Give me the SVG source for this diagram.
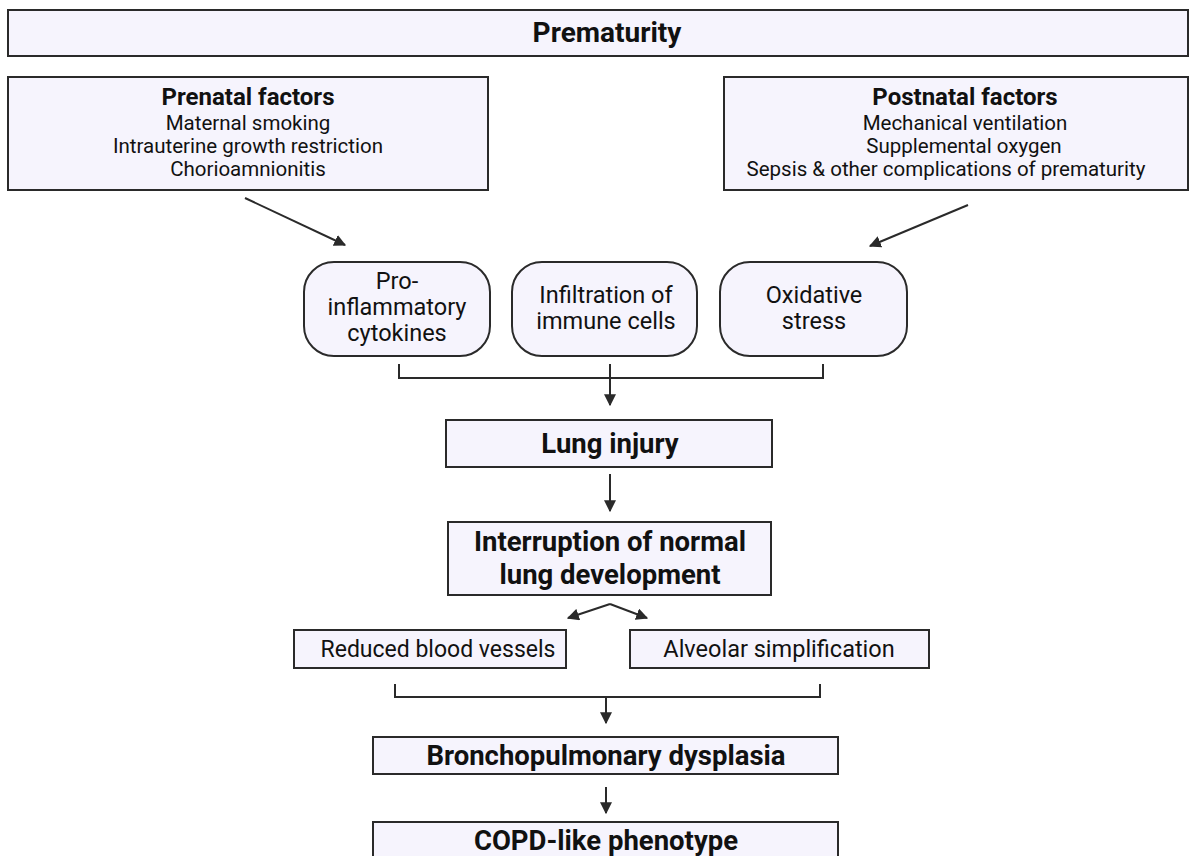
<svg xmlns="http://www.w3.org/2000/svg" width="1192" height="856" viewBox="0 0 1192 856">
<defs>
<style>
.box{fill:#f6f4fd;stroke:#2a2a2a;stroke-width:2}
.t{font-family:Roboto,"Liberation Sans",sans-serif;fill:#111;text-anchor:middle}
.b{font-weight:bold}
.ln{fill:none;stroke:#2a2a2a;stroke-width:2}
</style>
<marker id="ah" viewBox="0 0 10 10" refX="9" refY="5" markerWidth="6" markerHeight="6" orient="auto" markerUnits="strokeWidth">
<path d="M0,0 L10,5 L0,10 z" fill="#2a2a2a"/>
</marker>
</defs>
<rect width="1192" height="856" fill="#fff"/>
<g id="prematurity"><rect class="box" x="8" y="10" width="1180" height="46"/><text class="t b" x="607" y="42" font-size="28">Prematurity</text></g>
<g id="prenatal"><rect class="box" x="8" y="77" width="480" height="113"/>
<text class="t b" x="248" y="105" font-size="24">Prenatal factors</text>
<text class="t" x="248" y="130" font-size="20.5">Maternal smoking</text>
<text class="t" x="248" y="153" font-size="20.5">Intrauterine growth restriction</text>
<text class="t" x="248" y="176" font-size="20.5">Chorioamnionitis</text></g>
<g id="postnatal"><rect class="box" x="724" y="77" width="464" height="113"/>
<text class="t b" x="965" y="105" font-size="24">Postnatal factors</text>
<text class="t" x="965" y="130" font-size="20.5">Mechanical ventilation</text>
<text class="t" x="964" y="153" font-size="20.5">Supplemental oxygen</text>
<text class="t" x="946" y="176" font-size="20.5">Sepsis &amp; other complications of prematurity</text></g>
<g id="cytokines"><rect class="box" x="304" y="262" width="186" height="94" rx="30"/>
<text class="t" x="397" y="289" font-size="23.5">Pro-</text>
<text class="t" x="397" y="315" font-size="23.5">inflammatory</text>
<text class="t" x="397" y="341" font-size="23.5">cytokines</text></g>
<g id="immune"><rect class="box" x="512" y="262" width="185" height="94" rx="30"/>
<text class="t" x="606" y="303" font-size="23.5">Infiltration of</text>
<text class="t" x="606" y="329" font-size="23.5">immune cells</text></g>
<g id="oxidative"><rect class="box" x="720" y="262" width="187" height="94" rx="30"/>
<text class="t" x="814" y="303" font-size="23.5">Oxidative</text>
<text class="t" x="814" y="329" font-size="23.5">stress</text></g>
<g id="lunginjury"><rect class="box" x="446" y="420" width="326" height="47"/>
<text class="t b" x="610" y="453" font-size="27.5">Lung injury</text></g>
<g id="interruption"><rect class="box" x="448" y="522" width="323" height="73"/>
<text class="t b" x="610" y="551" font-size="27.5">Interruption of normal</text>
<text class="t b" x="610" y="584" font-size="27.5">lung development</text></g>
<g id="reduced"><rect class="box" x="294" y="630" width="272" height="38"/>
<text class="t" x="438" y="657" font-size="23">Reduced blood vessels</text></g>
<g id="alveolar"><rect class="box" x="630" y="630" width="299" height="38"/>
<text class="t" x="779" y="657" font-size="23.5">Alveolar simplification</text></g>
<g id="bpd"><rect class="box" x="373" y="737" width="465" height="37"/>
<text class="t b" x="606" y="765" font-size="27.5">Bronchopulmonary dysplasia</text></g>
<g id="copd"><rect class="box" x="373" y="822" width="465" height="40"/>
<text class="t b" x="606" y="850" font-size="27.5">COPD-like phenotype</text></g>
<g id="connectors">
<line class="ln" x1="245" y1="198" x2="345" y2="245" marker-end="url(#ah)"/>
<line class="ln" x1="968" y1="205" x2="870" y2="246" marker-end="url(#ah)"/>
<polyline class="ln" points="399,364 399,378 823,378 823,364"/>
<line class="ln" x1="610" y1="364" x2="610" y2="405" marker-end="url(#ah)"/>
<line class="ln" x1="610" y1="474" x2="610" y2="511" marker-end="url(#ah)"/>
<path class="ln" d="M610,604 L568,618" marker-end="url(#ah)"/>
<path class="ln" d="M610,604 L647,618" marker-end="url(#ah)"/>
<polyline class="ln" points="395,684 395,697 820,697 820,684"/>
<line class="ln" x1="606" y1="697" x2="606" y2="723" marker-end="url(#ah)"/>
<line class="ln" x1="606" y1="787" x2="606" y2="813" marker-end="url(#ah)"/>
</g>
</svg>
